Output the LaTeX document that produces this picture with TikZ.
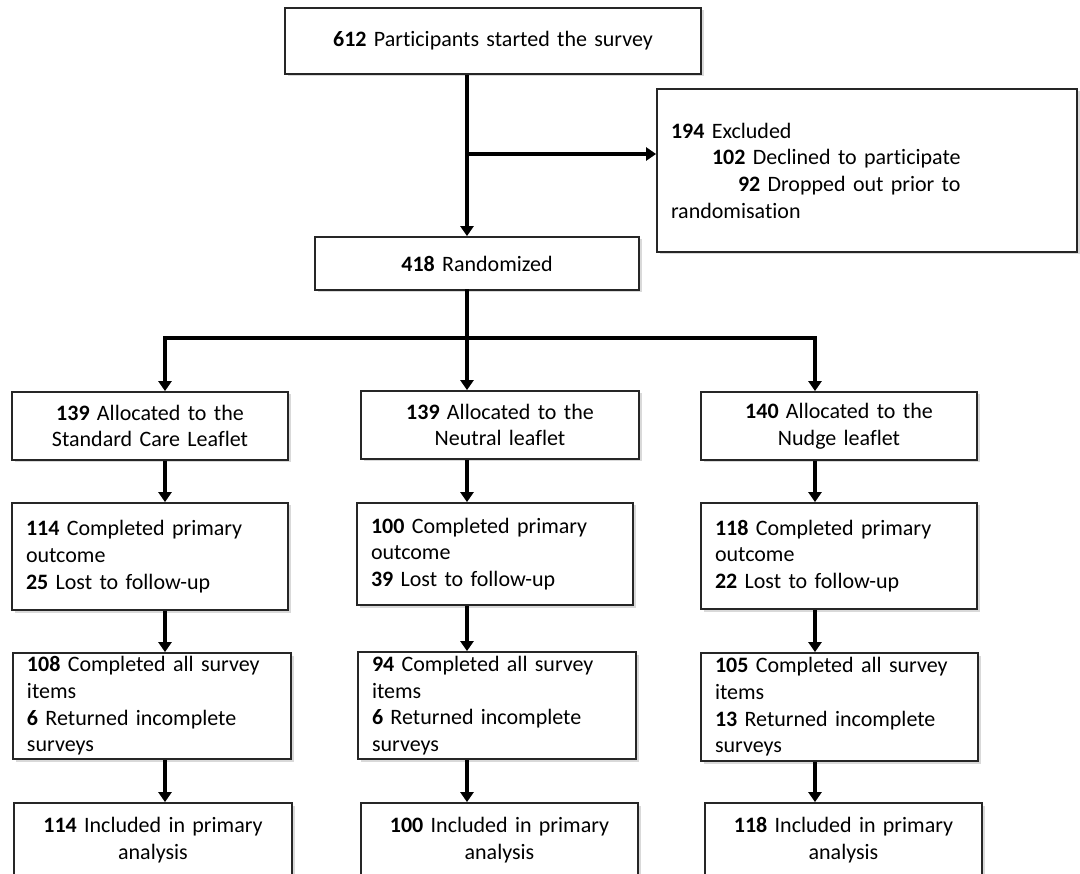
\documentclass[tikz,border=0pt]{standalone}
\usepackage{fontspec}
\setmainfont{Carlito}[Ligatures=NoCommon]
\usetikzlibrary{arrows.meta,shadows}

\tikzset{
  box/.style={draw=black!85, line width=1.8pt, fill=white, inner xsep=14pt, inner ysep=0pt,
    align=center, font=\fontsize{22}{26.7}\selectfont,
    drop shadow={opacity=0.3, shadow xshift=2.5pt, shadow yshift=-2.5pt}},
  lbox/.style={box, align=left},
  link/.style={line width=3.6pt, line cap=rect},
  arr/.style={line width=3.6pt, -{Triangle[width=13pt,length=10pt]}},
}

\begin{document}
\begin{tikzpicture}[x=1pt, y=-1pt]
  \clip (0,0) rectangle (1080,874);

  % Top of the chart
  \node[box, text width=388pt, minimum height=66pt] (start) at (493,41)
    {\textbf{612} Participants started the survey};
  \node[lbox, text width=392pt, minimum height=163pt] (excl) at (867,170.5)
    {\textbf{194} Excluded\\
     \hspace*{41pt}\textbf{102} Declined to participate\\
     \hspace*{67pt}\textbf{92} Dropped out prior to\\
     randomisation};
  \node[box, text width=296pt, minimum height=53pt] (rand) at (477,263.5)
    {\textbf{418} Randomized};

  % Allocation
  \node[box, text width=248pt, minimum height=68pt] (alloc1) at (150,426)
    {\textbf{139} Allocated to the\\Standard Care Leaflet};
  \node[box, text width=250pt, minimum height=68pt] (alloc2) at (500,425)
    {\textbf{139} Allocated to the\\Neutral leaflet};
  \node[box, text width=248pt, minimum height=68pt] (alloc3) at (839,426)
    {\textbf{140} Allocated to the\\Nudge leaflet};

  % Primary outcome
  \node[lbox, text width=248pt, minimum height=107pt] (out1) at (150,556.5)
    {\textbf{114} Completed primary\\outcome\\\textbf{25} Lost to follow-up};
  \node[lbox, text width=248pt, minimum height=102pt] (out2) at (495,554)
    {\textbf{100} Completed primary\\outcome\\\textbf{39} Lost to follow-up};
  \node[lbox, text width=248pt, minimum height=106pt] (out3) at (839,556)
    {\textbf{118} Completed primary\\outcome\\\textbf{22} Lost to follow-up};

  % Survey items
  \node[lbox, text width=250pt, minimum height=106pt] (comp1) at (152,706)
    {\textbf{108} Completed all survey\\items\\\textbf{6} Returned incomplete\\surveys};
  \node[lbox, text width=250pt, minimum height=107pt] (comp2) at (497,705.5)
    {\textbf{94} Completed all survey\\items\\\textbf{6} Returned incomplete\\surveys};
  \node[lbox, text width=249pt, minimum height=108pt] (comp3) at (839.5,707)
    {\textbf{105} Completed all survey\\items\\\textbf{13} Returned incomplete\\surveys};

  % Analysis (cut at the bottom edge)
  \node[box, text width=250pt, minimum height=74pt] (incl1) at (153,840)
    {\textbf{114} Included in primary\\analysis};
  \node[box, text width=249pt, minimum height=74pt] (incl2) at (499.5,840)
    {\textbf{100} Included in primary\\analysis};
  \node[box, text width=249pt, minimum height=74pt] (incl3) at (843.5,840)
    {\textbf{118} Included in primary\\analysis};

  % Column positions of the connectors
  \coordinate (c1) at (165,0);
  \coordinate (c2) at (467,0);
  \coordinate (c3) at (815,0);
  \coordinate (br) at (467,154);
  \coordinate (split) at (467,338);

  % Connectors at the top
  \draw[arr] (start.south -| c2) -- (rand.north -| c2);
  \draw[arr] (br) -- (br -| excl.west);
  \draw[link] (rand.south -| c2) -- (split);
  \draw[link] (split -| c1) -- (split -| c3);

  % Connectors down each column
  \foreach \c in {1,2,3} {
    \draw[arr] (split -| c\c) -- (alloc\c.north -| c\c);
    \draw[arr] (alloc\c.south -| c\c) -- (out\c.north -| c\c);
    \draw[arr] (out\c.south -| c\c) -- (comp\c.north -| c\c);
    \draw[arr] (comp\c.south -| c\c) -- (incl\c.north -| c\c);
  }
\end{tikzpicture}
\end{document}
